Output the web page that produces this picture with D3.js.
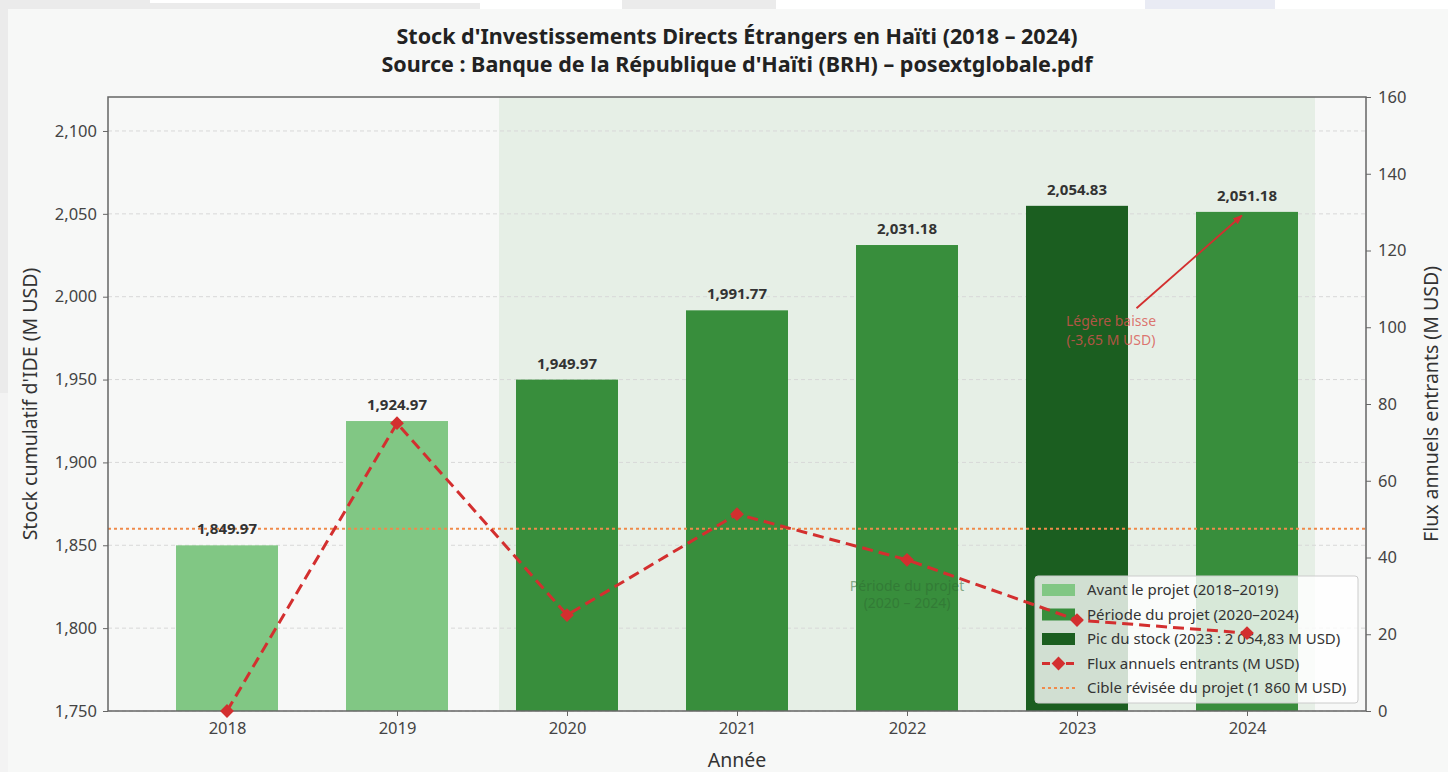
<!DOCTYPE html>
<html>
<head>
<meta charset="utf-8">
<script src="https://cdn.jsdelivr.net/npm/d3@7"></script>
<style>
  body { margin: 0; background: #f7f8f7; }
  text { font-family: "Noto Sans", "Open Sans", sans-serif; }
</style>
</head>
<body>
<div class="canvas"></div>
<script>
// data
const years = ["2018", "2019", "2020", "2021", "2022", "2023", "2024"];
const stock = [1849.97, 1924.97, 1949.97, 1991.77, 2031.18, 2054.83, 2051.18];
const flux = [0, 75, 25, 51.3, 39.4, 23.7, 20.3];
const phase = ["avant", "avant", "projet", "projet", "projet", "pic", "projet"];
const stockTicks = [1750, 1800, 1850, 1900, 1950, 2000, 2050, 2100];
const fluxTicks = [0, 20, 40, 60, 80, 100, 120, 140, 160];
const target = 1860;
const legendLabels = [
  "Avant le projet (2018–2019)",
  "Période du projet (2020–2024)",
  "Pic du stock (2023 : 2 054,83 M USD)",
  "Flux annuels entrants (M USD)",
  "Cible révisée du projet (1 860 M USD)"
];

const W = 1448, H = 772;
const m = { left: 108, right: 1366, top: 97, bottom: 711 };
const colors = { avant: "#81c784", projet: "#388e3c", pic: "#1b5e20" };

const svg = d3.select(".canvas").append("svg")
  .attr("width", W).attr("height", H);

// screenshot edges
svg.append("rect").attr("width", W).attr("height", H).attr("fill", "#f7f8f7");
const strip = [[0, 150, "#ebebeb"], [150, 480, "#ffffff"], [480, 622, "#ffffff"], [622, 776, "#ebebeb"],
  [776, 1145, "#ffffff"], [1145, 1275, "#e9ebf4"], [1275, 1448, "#ffffff"]];
strip.forEach(s => svg.append("rect").attr("x", s[0]).attr("y", 0).attr("width", s[1] - s[0]).attr("height", 9).attr("fill", s[2]));
svg.append("rect").attr("x", 150).attr("y", 3).attr("width", 330).attr("height", 6).attr("fill", "#ebebeb");
svg.append("rect").attr("x", 0).attr("y", 0).attr("width", 8).attr("height", 393).attr("fill", "#ebebeb");
svg.append("rect").attr("x", 0).attr("y", 393).attr("width", 8).attr("height", H - 393).attr("fill", "#f3f3f3");

// scales
const x = d3.scaleLinear().domain([-0.7, 6.7]).range([m.left, m.right]);
const y = d3.scaleLinear().domain([1750, 2120.5]).range([m.bottom, m.top]);
const y2 = d3.scaleLinear().domain([0, 160]).range([m.bottom, m.top]);
const barW = x(0.6) - x(0);

// project period shading
svg.append("rect")
  .attr("x", x(1.6)).attr("y", m.top)
  .attr("width", x(6.4) - x(1.6)).attr("height", m.bottom - m.top)
  .attr("fill", "#e6efe6");

// grid
svg.append("g").selectAll("line").data(stockTicks).join("line")
  .attr("x1", m.left).attr("x2", m.right)
  .attr("y1", d => y(d)).attr("y2", d => y(d))
  .attr("stroke", "#d8d8d8").attr("stroke-dasharray", "4,3").attr("stroke-width", 1);

// bars
svg.append("g").selectAll("rect").data(stock).join("rect")
  .attr("x", (d, i) => x(i) - barW / 2)
  .attr("y", d => y(d))
  .attr("width", barW)
  .attr("height", d => m.bottom - y(d))
  .attr("fill", (d, i) => colors[phase[i]]);

// target line
svg.append("line")
  .attr("x1", m.left).attr("x2", m.right)
  .attr("y1", y(target)).attr("y2", y(target))
  .attr("stroke", "#f08a4b").attr("stroke-width", 2).attr("stroke-dasharray", "3,3");

// bar labels
svg.append("g").selectAll("text").data(stock).join("text")
  .attr("x", (d, i) => x(i))
  .attr("y", d => y(d) - 11)
  .attr("text-anchor", "middle")
  .attr("font-size", 15).attr("font-weight", "bold").attr("fill", "#333")
  .text(d => d3.format(",.2f")(d));

// period text
const pt = svg.append("text").attr("text-anchor", "middle")
  .attr("font-size", 14).attr("fill", "#2e6b31").attr("fill-opacity", 0.55);
pt.append("tspan").attr("x", x(4)).attr("y", y2(31.4)).text("Période du projet");
pt.append("tspan").attr("x", x(4)).attr("y", y2(26.8)).text("(2020 – 2024)");

// annotation
const a0 = [x(5.35), y(1993)], a1 = [x(5.97), y(2049)];
svg.append("defs").append("marker")
  .attr("id", "arr").attr("viewBox", "0 0 10 10").attr("refX", 9).attr("refY", 5)
  .attr("markerWidth", 5.5).attr("markerHeight", 5.5).attr("orient", "auto")
  .append("path").attr("d", "M0,1L10,5L0,9z").attr("fill", "#d32f2f");
svg.append("line")
  .attr("x1", a0[0]).attr("y1", a0[1]).attr("x2", a1[0]).attr("y2", a1[1])
  .attr("stroke", "#d32f2f").attr("stroke-width", 1.8).attr("marker-end", "url(#arr)");
const at = svg.append("text").attr("text-anchor", "middle")
  .attr("font-size", 14).attr("fill", "#d9534f").attr("fill-opacity", 0.8);
at.append("tspan").attr("x", x(5.2)).attr("y", y(1982.5)).text("Légère baisse");
at.append("tspan").attr("x", x(5.2)).attr("y", y(1971)).text("(-3,65 M USD)");

// axes
const axL = svg.append("g").attr("transform", `translate(${m.left},0)`)
  .call(d3.axisLeft(y).tickValues(stockTicks).tickFormat(d3.format(",")).tickSize(5).tickPadding(6));
const axR = svg.append("g").attr("transform", `translate(${m.right},0)`)
  .call(d3.axisRight(y2).tickValues(fluxTicks).tickSize(5).tickPadding(7));
const axB = svg.append("g").attr("transform", `translate(0,${m.bottom})`)
  .call(d3.axisBottom(x).tickValues(d3.range(7)).tickFormat(i => years[i]).tickSize(5).tickPadding(6));
[axL, axR, axB].forEach(g => {
  g.select(".domain").remove();
  g.selectAll("line").attr("stroke", "#666");
  g.selectAll("text").attr("font-size", 16.5).attr("fill", "#444").style("font-family", "'Noto Sans', sans-serif");
});

// frame
svg.append("rect")
  .attr("x", m.left).attr("y", m.top)
  .attr("width", m.right - m.left).attr("height", m.bottom - m.top)
  .attr("fill", "none").attr("stroke", "#666").attr("stroke-width", 1.5);

// legend (under the flux line, which lives on the twin axis)
const diamond = d3.symbol().type(d3.symbolSquare).size(95);
const lg = svg.append("g").attr("transform", "translate(1035,576)");
lg.append("rect").attr("width", 323).attr("height", 127).attr("rx", 3)
  .attr("fill", "#fff").attr("fill-opacity", 0.8).attr("stroke", "#ccc");
const legendKeys = ["avant", "projet", "pic", "flux", "target"];
legendKeys.forEach((k, i) => {
  const cy = 14 + i * 24.5;
  if (colors[k]) {
    lg.append("rect").attr("x", 7).attr("y", cy - 6).attr("width", 33).attr("height", 12).attr("fill", colors[k]);
  } else if (k === "flux") {
    lg.append("line").attr("x1", 7).attr("x2", 40).attr("y1", cy).attr("y2", cy)
      .attr("stroke", "#d32f2f").attr("stroke-width", 3).attr("stroke-dasharray", "8,4");
    lg.append("path").attr("d", diamond).attr("transform", `translate(23.5,${cy}) rotate(45)`).attr("fill", "#d32f2f");
  } else {
    lg.append("line").attr("x1", 7).attr("x2", 40).attr("y1", cy).attr("y2", cy)
      .attr("stroke", "#f08a4b").attr("stroke-width", 2).attr("stroke-dasharray", "3,3");
  }
  lg.append("text").attr("x", 52).attr("y", cy + 5)
    .attr("font-size", 15).attr("fill", "#333").text(legendLabels[i]);
});

// flux line
const line = d3.line().x((d, i) => x(i)).y(d => y2(d));
svg.append("path").datum(flux)
  .attr("d", line).attr("fill", "none")
  .attr("stroke", "#d32f2f").attr("stroke-width", 3).attr("stroke-dasharray", "11,6");
svg.append("g").selectAll("path").data(flux).join("path")
  .attr("d", diamond)
  .attr("transform", (d, i) => `translate(${x(i)},${y2(d)}) rotate(45)`)
  .attr("fill", "#d32f2f");

// titles
svg.append("text").attr("x", 737).attr("y", 44).attr("text-anchor", "middle")
  .attr("font-size", 21.5).attr("font-weight", "bold").attr("fill", "#222")
  .text("Stock d'Investissements Directs Étrangers en Haïti (2018 – 2024)");
svg.append("text").attr("x", 737).attr("y", 72).attr("text-anchor", "middle")
  .attr("font-size", 21.5).attr("font-weight", "bold").attr("fill", "#222")
  .text("Source : Banque de la République d'Haïti (BRH) – posextglobale.pdf");

// axis titles
svg.append("text").attr("x", 737).attr("y", 767).attr("text-anchor", "middle")
  .attr("font-size", 19.5).attr("fill", "#333").text("Année");
svg.append("text").attr("transform", `translate(37,${(m.top + m.bottom) / 2}) rotate(-90)`)
  .attr("text-anchor", "middle").attr("font-size", 19.5).attr("fill", "#333")
  .text("Stock cumulatif d'IDE (M USD)");
svg.append("text").attr("transform", `translate(1438,${(m.top + m.bottom) / 2}) rotate(-90)`)
  .attr("text-anchor", "middle").attr("font-size", 19.5).attr("fill", "#333")
  .text("Flux annuels entrants (M USD)");
</script>
</body>
</html>
